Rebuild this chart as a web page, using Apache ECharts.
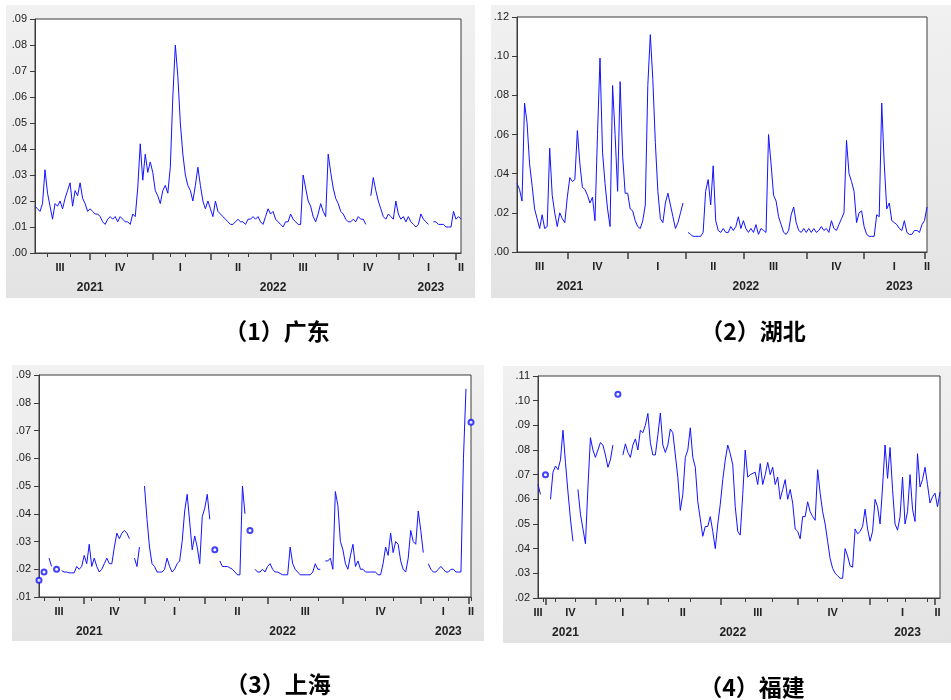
<!DOCTYPE html>
<html>
<head>
<meta charset="utf-8">
<script src="https://cdn.jsdelivr.net/npm/echarts@6/dist/echarts.min.js"></script>
<style>
html,body{margin:0;padding:0;background:#fff;}
#chart{width:951px;height:700px;}
</style>
</head>
<body>
<div id="chart"></div>
<script>
// Quarter and year names shown under each time axis
const quarterNames = ['III', 'IV', 'I', 'II', 'III', 'IV', 'I', 'II'];
const yearNames = ['2021', '2022', '2023'];

// (1) 广东 — daily series, null = missing observation
const gdValues = [
  .018,.017,.016,.019,.032,.023,.018,.013,.019,.018,
  .020,.017,.021,.024,.027,.018,.024,.022,.027,.021,
  .019,.016,.017,.016,.015,.015,.014,.012,.011,.013,
  .014,.013,.014,.012,.014,.013,.012,.012,.011,.015,
  .014,.025,.042,.028,.038,.031,.035,.031,.024,.022,
  .019,.024,.026,.023,.033,.060,.080,.068,.050,.038,
  .030,.026,.024,.020,.026,.033,.026,.020,.017,.020,
  .017,.014,.020,.016,.015,.014,.013,.012,.011,.011,
  .012,.013,.012,.012,.011,.013,.013,.014,.013,.014,
  .012,.011,.014,.017,.015,.016,.013,.012,.011,.010,
  .012,.012,.015,.013,.012,.011,.011,.030,.025,.020,
  .018,.014,.012,.015,.019,.016,.014,.038,.031,.025,
  .021,.019,.016,.015,.013,.012,.012,.013,.012,.014,
  .013,.013,.011,null,.022,.029,.024,.020,.017,.014,
  .013,.015,.014,.013,.020,.015,.013,.014,.012,.014,
  .012,.011,.010,.011,.015,.013,.012,.011,null,.012,
  .012,.011,.011,.011,.010,.010,.010,.016,.013,.014,
  .013
];
const gdQuarterTicks = [22, 47, 70, 94, 121, 145, 168];
const gdMonthTicks = [5, 14, 28, 37, 54, 60, 77, 85, 103, 112, 127, 136, 151, 159];
const gdQuarterAt = [10, 34, 58, 81, 107, 133, 157, 170];
const gdYearAt = [22, 95, 158];

// (2) 湖北
const hbValues = [
  .035,.032,.026,.076,.066,.045,.034,.022,.017,.012,
  .019,.012,.013,.053,.029,.020,.013,.020,.017,.015,
  .028,.038,.036,.037,.062,.045,.033,.032,.029,.025,
  .028,.016,.060,.099,.051,.035,.022,.013,.085,.060,
  .031,.087,.049,.030,.030,.022,.021,.016,.013,.012,
  .016,.024,.085,.111,.088,.056,.031,.017,.015,.025,
  .030,.024,.018,.012,.015,.020,.025,null,.010,.009,
  .008,.008,.008,.008,.010,.031,.037,.024,.044,.016,
  .011,.010,.012,.010,.010,.013,.011,.013,.018,.012,
  .016,.012,.010,.012,.010,.014,.009,.012,.011,.010,
  .060,.045,.029,.026,.018,.014,.010,.009,.011,.019,
  .023,.015,.011,.010,.012,.010,.012,.010,.012,.010,
  .011,.013,.011,.012,.010,.016,.012,.011,.014,.017,
  .020,.057,.040,.036,.031,.015,.020,.021,.013,.009,
  .008,.008,.008,.019,.018,.076,.045,.022,.025,.016,
  .015,.014,.012,.011,.016,.010,.009,.009,.011,.011,
  .010,.014,.016,.023
];
const hbQuarterTicks = [20, 44, 67, 90, 115, 138, 162];
const hbMonthTicks = [];
const hbQuarterAt = [9, 32, 56, 78, 102, 127, 150, 163];
const hbYearAt = [21, 91, 152];

// (3) 上海
const shValues = [
  .016,null,.019,null,.024,.021,null,.020,null,.0195,
  .019,.019,.0187,.0187,.0187,.021,.020,.021,.025,.022,
  .029,.021,.024,.021,.019,.020,.022,.024,.022,.022,
  .028,.033,.031,.033,.034,.033,.031,null,.024,.021,
  .028,null,.050,.038,.028,.022,.021,.019,.019,.019,
  .020,.024,.021,.019,.020,.022,.023,.030,.041,.047,
  .037,.027,.032,.028,.022,.039,.042,.047,.038,null,
  .027,null,.023,.021,.021,.021,.0205,.020,.019,.018,
  .018,.050,.040,null,.034,null,.020,.019,.019,.020,
  .019,.021,.022,.020,.019,.019,.0185,.018,.018,.018,
  .028,.022,.020,.019,.018,.018,.018,.018,.018,.019,
  .022,.020,.020,null,.023,.023,.024,.020,.048,.043,
  .030,.027,.022,.020,.025,.029,.021,.023,.020,.020,
  .019,.019,.019,.019,.019,.018,.018,.022,.028,.025,
  .033,.026,.030,.029,.023,.020,.019,.024,.034,.030,
  .029,.041,.034,.026,null,.022,.020,.019,.019,.020,
  .021,.020,.019,.019,.020,.020,.019,.019,.019,.060,
  .085,null,.073
];
const shQuarterTicks = [18, 42, 66, 91, 121, 152, 171];
const shMonthTicks = [2, 8, 21, 32, 50, 56, 74, 81, 100, 111, 130, 141, 157, 163, 172];
const shQuarterAt = [8, 30, 54, 79, 106, 136, 161, 172];
const shYearAt = [20, 97, 163];

// (4) 福建
const fjValues = [
  .066,.062,null,.070,null,.060,.071,.0735,.072,.076,
  .088,.075,.063,.052,.043,null,.064,.054,.048,.042,
  .065,.085,.080,.077,.080,.083,.082,.078,.073,.076,
  .082,null,.1026,null,.078,.0825,.079,.077,.082,.0845,
  .080,.088,.087,.090,.0948,.083,.078,.078,.086,.095,
  .082,.079,.082,.0885,.087,.078,.069,.0555,.062,.077,
  .080,.089,.077,.073,.059,.052,.045,.049,.049,.053,
  .047,.040,.050,.058,.068,.076,.082,.0785,.074,.057,
  .047,.0455,.062,.080,.069,.070,.0705,.071,.066,.0745,
  .066,.070,.075,.070,.073,.066,.069,.060,.064,.068,
  .060,.064,.0585,.048,.047,.044,.053,.053,.059,.055,
  .053,.0515,.072,.0625,.055,.050,.043,.036,.032,.030,
  .029,.028,.028,.040,.037,.033,.0325,.048,.046,.047,
  .049,.056,.048,.043,.047,.060,.057,.050,.065,.082,
  .0685,.081,.064,.050,.0475,.053,.069,.050,.055,.070,
  .056,.051,.0785,.065,.068,.073,.066,.0585,.061,.0625,
  .057,.063
];
const fjQuarterTicks = [3, 23, 44, 73, 104, 133, 159];
const fjMonthTicks = [2, 7, 15, 31, 33, 52, 61, 83, 94, 112, 122, 140, 147, 156];
const fjQuarterAt = [0, 13, 34, 58, 88, 118, 146, 160];
const fjYearAt = [11, 78, 148];

// Panel layout (pixel boxes) paired with the data above
const panels = [
  { name: '（1）广东', values: gdValues, qTicks: gdQuarterTicks, mTicks: gdMonthTicks, qAt: gdQuarterAt, yAt: gdYearAt,
    yMin: 0, yMax: 0.09, yStep: 0.01,
    grid: { left: 35, top: 19, width: 426, height: 234 }, frame: [6, 5, 469, 293], titlePos: [277, 331] },
  { name: '（2）湖北', values: hbValues, qTicks: hbQuarterTicks, mTicks: hbMonthTicks, qAt: hbQuarterAt, yAt: hbYearAt,
    yMin: 0, yMax: 0.12, yStep: 0.02,
    grid: { left: 517, top: 17, width: 410, height: 235 }, frame: [491, 5, 460, 293], titlePos: [753, 331] },
  { name: '（3）上海', values: shValues, qTicks: shQuarterTicks, mTicks: shMonthTicks, qAt: shQuarterAt, yAt: shYearAt,
    yMin: 0.01, yMax: 0.09, yStep: 0.01,
    grid: { left: 39, top: 375, width: 432, height: 222 }, frame: [12, 365, 472, 276], titlePos: [278, 684] },
  { name: '（4）福建', values: fjValues, qTicks: fjQuarterTicks, mTicks: fjMonthTicks, qAt: fjQuarterAt, yAt: fjYearAt,
    yMin: 0.02, yMax: 0.11, yStep: 0.01,
    grid: { left: 538, top: 376, width: 402, height: 222 }, frame: [503, 366, 448, 277], titlePos: [752, 687] }
];

const LINE = '#1212ff';
const AXIS = '#3c3c3c';
const TEXT = '#222';
const FONT = 'Liberation Sans, Arial, sans-serif';

const grids = [], xAxes = [], yAxes = [], series = [], graphics = [];

panels.forEach((p, k) => {
  const cats = p.values.map((_, i) => String(i));
  const qSet = new Set(p.qTicks);
  const mSet = new Set(p.mTicks);
  const qLabel = new Map(p.qAt.map((s, j) => [s, quarterNames[j]]));
  const yLabel = new Map(p.yAt.map((s, j) => [s, yearNames[j]]));

  grids.push(Object.assign({
    show: true, backgroundColor: '#ffffff', borderColor: AXIS, borderWidth: 1, containLabel: false
  }, p.grid));

  // quarter boundaries with quarter names
  xAxes.push({
    type: 'category', gridIndex: k, position: 'bottom', data: cats, boundaryGap: false,
    axisLine: { show: true, lineStyle: { color: AXIS, width: 1 } },
    axisTick: { show: true, interval: (i) => qSet.has(i), length: 7, lineStyle: { color: AXIS, width: 1.5 } },
    axisLabel: { show: true, interval: (i) => qLabel.has(i), formatter: (v, i) => qLabel.get(i) || '',
      margin: 9, color: TEXT, fontSize: 11, fontFamily: FONT, fontWeight: 'bold' },
    splitLine: { show: false }
  });
  // month boundaries with year names
  xAxes.push({
    type: 'category', gridIndex: k, position: 'bottom', data: cats, boundaryGap: false,
    axisLine: { show: false },
    axisTick: { show: true, interval: (i) => mSet.has(i), length: 4, lineStyle: { color: AXIS, width: 1 } },
    axisLabel: { show: true, interval: (i) => yLabel.has(i), formatter: (v, i) => yLabel.get(i) || '',
      margin: 29, color: TEXT, fontSize: 12, fontFamily: FONT, fontWeight: 'bold' },
    splitLine: { show: false }
  });

  yAxes.push({
    type: 'value', gridIndex: k, min: p.yMin, max: p.yMax, interval: p.yStep,
    axisLine: { show: true, lineStyle: { color: AXIS } },
    axisTick: { show: true, length: 5, lineStyle: { color: AXIS } },
    axisLabel: { margin: 8, color: TEXT, fontSize: 11, fontFamily: FONT,
      formatter: (v) => v.toFixed(2).replace(/^0/, '') },
    splitLine: { show: false }
  });

  series.push({
    type: 'line', xAxisIndex: 2 * k, yAxisIndex: k, data: p.values,
    showSymbol: false, connectNulls: false, animation: false,
    lineStyle: { color: LINE, width: 1 }, itemStyle: { color: LINE }
  });

  // observations standing alone between gaps are marked with small circles
  const singles = [];
  p.values.forEach((v, i) => {
    if (v != null && p.values[i - 1] == null && p.values[i + 1] == null) singles.push([i, v]);
  });
  series.push({
    type: 'scatter', xAxisIndex: 2 * k, yAxisIndex: k, data: singles,
    symbol: 'emptyCircle', symbolSize: 5, animation: false,
    itemStyle: { color: LINE, borderColor: LINE, borderWidth: 1 }
  });

  graphics.push({
    type: 'rect', z: -10,
    shape: { x: p.frame[0], y: p.frame[1], width: p.frame[2], height: p.frame[3] },
    style: { fill: new echarts.graphic.LinearGradient(0, 0, 0, 1, [
      { offset: 0, color: '#f1f1f1' }, { offset: 1, color: '#e3e3e3' }
    ]) }
  });
  graphics.push({
    type: 'text', z: 10,
    style: { text: p.name, x: p.titlePos[0], y: p.titlePos[1], textAlign: 'center', textVerticalAlign: 'middle',
      fill: '#000', font: 'bold 23px "Noto Sans CJK SC", sans-serif' }
  });
});

const chart = echarts.init(document.getElementById('chart'), null, { renderer: 'canvas' });
chart.setOption({
  animation: false,
  backgroundColor: '#ffffff',
  grid: grids,
  xAxis: xAxes,
  yAxis: yAxes,
  series: series,
  graphic: { elements: graphics }
});
</script>
</body>
</html>
